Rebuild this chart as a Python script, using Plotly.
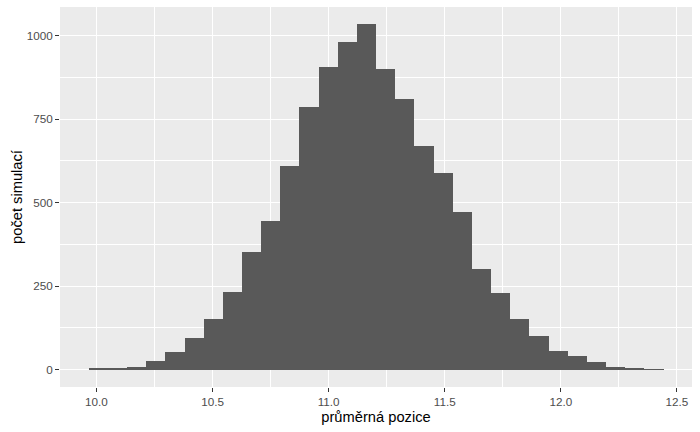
import plotly.graph_objects as go

# histogram (30 binu), stredy binu a pocty
bin_centers = [10.008, 10.091, 10.173, 10.256, 10.338, 10.421, 10.503, 10.586,
               10.668, 10.751, 10.833, 10.916, 10.998, 11.081, 11.163, 11.246,
               11.328, 11.411, 11.493, 11.576, 11.658, 11.741, 11.823, 11.906,
               11.988, 12.071, 12.153, 12.236, 12.318, 12.401]
counts = [3, 6, 9, 25, 52, 94, 153, 234, 353, 446, 610, 786, 905, 980, 1034,
          899, 810, 670, 588, 473, 302, 230, 152, 101, 57, 40, 24, 9, 3, 2]
bin_width = 0.0832  # lehce prekryti, at nejsou mezery

x_ticks = [10.0, 10.5, 11.0, 11.5, 12.0, 12.5]
x_tick_labels = ["10.0", "10.5", "11.0", "11.5", "12.0", "12.5"]
y_ticks = [0, 250, 500, 750, 1000]

fig = go.Figure(go.Bar(
    x=bin_centers, y=counts, width=bin_width,
    marker=dict(color='#595959', line=dict(width=0)),
    hoverinfo='x+y'
))

axis_font = dict(family='Liberation Sans, Arial', size=11.7, color='#4D4D4D')
title_font = dict(family='Liberation Sans, Arial', size=14.7, color='black')

fig.update_layout(
    width=700, height=432,
    margin=dict(l=60, r=8, t=7, b=45),
    paper_bgcolor='white', plot_bgcolor='#EBEBEB',
    bargap=0, showlegend=False,
    xaxis=dict(
        range=[9.843, 12.565], tickvals=x_ticks, ticktext=x_tick_labels,
        showgrid=True, gridcolor='white', gridwidth=1.1, zeroline=False,
        ticks='outside', ticklen=4, tickwidth=1.1, tickcolor='#333333',
        tickfont=axis_font, automargin=False,
        minor=dict(dtick=0.25, tick0=10.0, showgrid=True, gridcolor='white', gridwidth=0.55),
        title=dict(text='průměrná pozice', font=title_font, standoff=4),
    ),
    yaxis=dict(
        range=[-51.7, 1085.7], tickvals=y_ticks,
        showgrid=True, gridcolor='white', gridwidth=1.1, zeroline=False,
        ticks='outside', ticklen=4, tickwidth=1.1, tickcolor='#333333',
        tickfont=axis_font, automargin=False,
        minor=dict(dtick=125, tick0=0, showgrid=True, gridcolor='white', gridwidth=0.55),
        title=dict(text='počet simulací', font=title_font, standoff=0),
    ),
)

# bez okraje stranky, aby graf sedel presne v okne
fig.write_html("out.html", config={'displayModeBar': False},
               post_script="document.body.style.margin='0';")
